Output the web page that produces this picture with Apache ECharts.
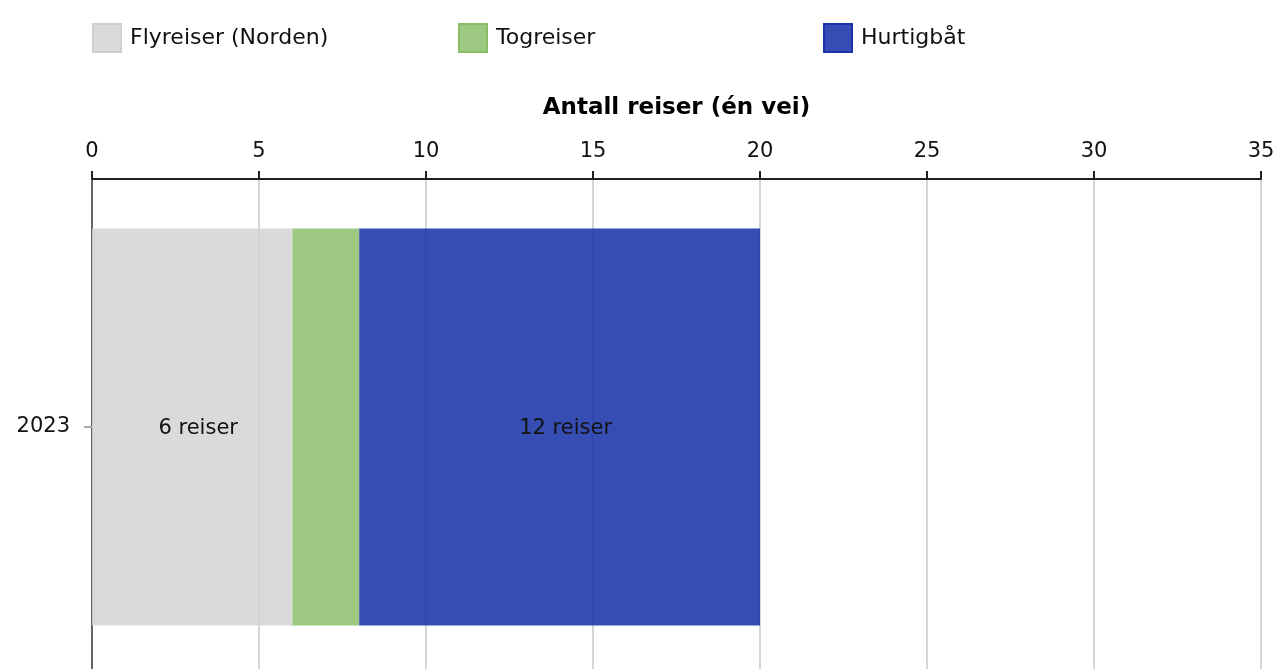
<!DOCTYPE html>
<html><head><meta charset="utf-8">
<script src="https://cdn.jsdelivr.net/npm/echarts@6/dist/echarts.min.js"></script>
<style>html,body{margin:0;padding:0;background:#fff;overflow:hidden}#c{width:1279px;height:675px}</style>
</head><body><div id="c"></div>
<script>
const categories = ['2023'];
const seriesNames = ['Flyreiser (Norden)', 'Togreiser', 'Hurtigbåt'];
const flyreiser = [6];
const togreiser = [2];
const hurtigbat = [12];
const xTicks = [0, 5, 10, 15, 20, 25, 30, 35];
const labelTexts = [['6 reiser'], [''], ['12 reiser']];

const colors = ['rgba(211,211,211,0.85)', 'rgba(140,192,108,0.85)', 'rgba(26,52,170,0.88)'];
const borders = ['#cfcfcf', '#86bd66', '#1a34b0'];
const font = 'DejaVu Sans, Verdana, sans-serif';
const values = [flyreiser, togreiser, hurtigbat];

const chart = echarts.init(document.getElementById('c'));
const legendLefts = [92, 458, 823];
chart.setOption({
  animation: false,
  textStyle: { fontFamily: font },
  legend: seriesNames.map((n, i) => ({
    data: [{ name: n, itemStyle: { borderColor: borders[i], borderWidth: 2 } }],
    left: legendLefts[i], top: 23, padding: 0, itemWidth: 28, itemHeight: 28, itemGap: 8,
    icon: 'rect', textStyle: { fontSize: 22, color: '#111', fontFamily: font, padding: [4, 0, 0, 4] },
    selectedMode: false
  })),
  grid: { left: 92, right: 18, top: 179, bottom: 0, containLabel: false },
  xAxis: {
    type: 'value', position: 'top', min: 0, max: 35, interval: 5,
    name: 'Antall reiser (én vei)', nameLocation: 'middle', nameGap: 59,
    nameTextStyle: { fontSize: 23, fontWeight: 'bold', color: '#000', fontFamily: font },
    axisLine: { show: true, lineStyle: { color: '#222', width: 2 } },
    axisTick: { show: true, length: 8, lineStyle: { color: '#222', width: 2 } },
    axisLabel: { fontSize: 21, color: '#111', margin: 17, fontFamily: font,
      formatter: v => xTicks.includes(v) ? String(v) : '' },
    splitLine: { show: true, lineStyle: { color: '#d6d6d6', width: 2 } }
  },
  yAxis: {
    type: 'category', data: categories, inverse: true,
    axisLine: { show: true, lineStyle: { color: '#666', width: 2 } },
    axisTick: { show: true, alignWithLabel: true, length: 8, lineStyle: { color: '#aaa', width: 2 } },
    axisLabel: { fontSize: 21, color: '#111', margin: 22, fontFamily: font }
  },
  series: seriesNames.map((n, i) => ({
    name: n, type: 'bar', stack: 'total', barWidth: '80%',
    data: values[i],
    itemStyle: { color: colors[i], borderColor: borders[i], borderWidth: 0 },
    label: { show: true, position: 'inside', offset: [6, 2], fontSize: 21, color: '#111', fontFamily: font,
      formatter: p => labelTexts[i][p.dataIndex] }
  }))
});
</script></body></html>
